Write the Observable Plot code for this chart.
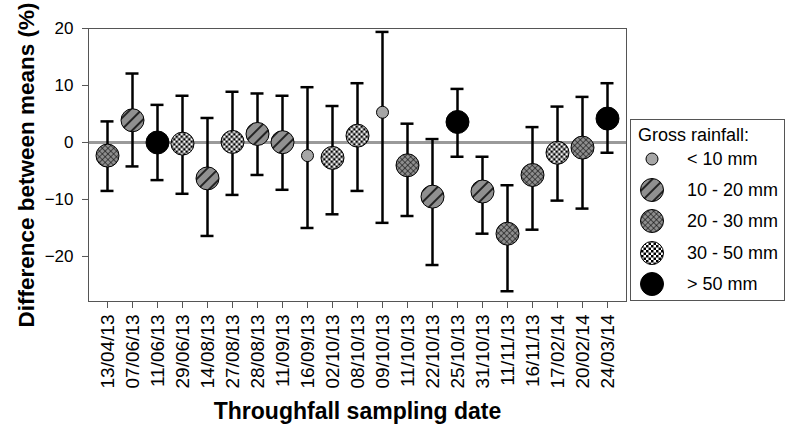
<!DOCTYPE html>
<html>
<head>
<meta charset="utf-8">
<script src="https://cdn.jsdelivr.net/npm/d3@7"></script>
<script src="https://cdn.jsdelivr.net/npm/@observablehq/plot@0.6"></script>
<style>
  body { margin: 0; background: #fff; }
  #chart { position: relative; width: 786px; height: 429px; }
  #legend { position: absolute; left: 630px; top: 119px; width: 153px; height: 180px; border: 1px solid #555; background: #fff; box-sizing: content-box; }
  #legend svg { display: block; }
</style>
</head>
<body>
<div id="chart"><div id="legend"></div></div>
<script>
const dates = ["13/04/13","07/06/13","11/06/13","29/06/13","14/08/13","27/08/13","28/08/13","11/09/13","16/09/13","02/10/13","08/10/13","09/10/13","11/10/13","22/10/13","25/10/13","31/10/13","11/11/13","16/11/13","17/02/14","20/02/14","24/03/14"];
const means = [-2.3, 3.9, 0.0, -0.2, -6.3, 0.1, 1.5, 0.05, -2.3, -2.7, 1.2, 5.3, -4.0, -9.5, 3.6, -8.6, -16.0, -5.7, -1.8, -0.9, 4.2];
const upper = [3.7, 12.1, 6.6, 8.2, 4.3, 8.9, 8.6, 8.2, 9.7, 6.4, 10.4, 19.4, 3.3, 0.6, 9.4, -2.5, -7.5, 2.7, 6.3, 8.0, 10.4];
const lower = [-8.5, -4.2, -6.6, -9.0, -16.4, -9.2, -5.7, -8.3, -15.0, -12.6, -8.5, -14.1, -12.9, -21.5, -2.5, -16.0, -26.1, -15.3, -10.2, -11.6, -1.8];
const rainClass = ["20 - 30 mm","10 - 20 mm","> 50 mm","30 - 50 mm","10 - 20 mm","30 - 50 mm","10 - 20 mm","10 - 20 mm","< 10 mm","30 - 50 mm","30 - 50 mm","< 10 mm","20 - 30 mm","10 - 20 mm","> 50 mm","10 - 20 mm","20 - 30 mm","20 - 30 mm","30 - 50 mm","20 - 30 mm","> 50 mm"];
const classes = ["< 10 mm","10 - 20 mm","20 - 30 mm","30 - 50 mm","> 50 mm"];
const classFill = ["#a6a6a6","url(#pStripe)","url(#pCross)","url(#pCheck)","#000000"];
const classRadius = [6, 11.5, 11.5, 11.5, 11.5];
const yTicks = [-20, -10, 0, 10, 20];

const data = dates.map((d, i) => ({date: d, mean: means[i], hi: upper[i], lo: lower[i], cls: rainClass[i]}));

const font = "'Liberation Sans', Arial, Helvetica, sans-serif";

const dotMarks = classes.map((c, k) => Plot.dot(data.filter(d => d.cls === c), {
  x: "date", y: "mean", r: classRadius[k], fill: classFill[k], stroke: "#000", strokeWidth: 1
}));

const plot = Plot.plot({
  width: 786,
  height: 429,
  marginLeft: 88,
  marginRight: 160,
  marginTop: 28,
  marginBottom: 128,
  style: {fontFamily: font, background: "#fff", color: "#000"},
  x: {type: "point", domain: dates, padding: 0.5},
  y: {domain: [-27.9, 20]},
  marks: [
    Plot.ruleY([0], {stroke: "#9a9a9a", strokeWidth: 3}),
    Plot.ruleX(data, {x: "date", y1: "lo", y2: "hi", stroke: "#000", strokeWidth: 2.5}),
    Plot.ruleY(data, {x1: "date", x2: "date", y: "hi", stroke: "#000", strokeWidth: 2.5, insetLeft: -6.5, insetRight: -6.5}),
    Plot.ruleY(data, {x1: "date", x2: "date", y: "lo", stroke: "#000", strokeWidth: 2.5, insetLeft: -6.5, insetRight: -6.5}),
    ...dotMarks,
    Plot.frame({stroke: "#555", strokeWidth: 1}),
    Plot.axisY({ticks: yTicks, tickSize: 6, tickPadding: 9, fontSize: 17, label: null, stroke: "#555"}),
    Plot.axisX({tickRotate: -90, tickSize: 7, tickPadding: 6, fontSize: 19, label: null, stroke: "#555"}),
    Plot.text(["Difference between means (%)"], {frameAnchor: "left", rotate: -90, dx: -62, fontSize: 22.5, fontWeight: "bold", textAnchor: "middle", lineAnchor: "middle", fill: "#000"}),
    Plot.text(["Throughfall sampling date"], {frameAnchor: "bottom", dy: 110, fontSize: 23, fontWeight: "bold", textAnchor: "middle", lineAnchor: "middle", fill: "#000"})
  ]
});

const svg = d3.select(plot);
const defs = svg.insert("defs", ":first-child");
// stripes
const ps = defs.append("pattern").attr("id", "pStripe").attr("patternUnits", "userSpaceOnUse")
  .attr("width", 8).attr("height", 8).attr("patternTransform", "rotate(45)");
ps.append("rect").attr("width", 8).attr("height", 8).attr("fill", "#909090");
ps.append("line").attr("x1", 1).attr("y1", 0).attr("x2", 1).attr("y2", 8).attr("stroke", "#000").attr("stroke-width", 1.5);
// crosshatch
const pc = defs.append("pattern").attr("id", "pCross").attr("patternUnits", "userSpaceOnUse")
  .attr("width", 4).attr("height", 4).attr("patternTransform", "rotate(45)");
pc.append("rect").attr("width", 4).attr("height", 4).attr("fill", "#8e8e8e");
pc.append("line").attr("x1", 0.3).attr("y1", 0).attr("x2", 0.3).attr("y2", 4).attr("stroke", "#000").attr("stroke-width", 0.65);
pc.append("line").attr("x1", 0).attr("y1", 0.3).attr("x2", 4).attr("y2", 0.3).attr("stroke", "#000").attr("stroke-width", 0.65);
// checker
const pk = defs.append("pattern").attr("id", "pCheck").attr("patternUnits", "userSpaceOnUse")
  .attr("width", 5).attr("height", 5);
pk.append("rect").attr("width", 5).attr("height", 5).attr("fill", "#fff");
pk.append("rect").attr("width", 2.5).attr("height", 2.5).attr("fill", "#000");
pk.append("rect").attr("x", 2.5).attr("y", 2.5).attr("width", 2.5).attr("height", 2.5).attr("fill", "#000");

const chart = document.getElementById("chart");
chart.insertBefore(plot, chart.firstChild);

// legend (HTML box with a small svg; offsets relative to box at 631,120)
const lsvg = d3.select("#legend").append("svg").attr("width", 153).attr("height", 180)
  .attr("font-family", font).attr("text-anchor", "start");
lsvg.append("text").attr("x", 7).attr("y", 15).attr("dy", "0.35em").attr("font-size", 18).attr("fill", "#000").text("Gross rainfall:");
const rowY = [39, 70, 101, 133, 164];
classes.forEach((c, k) => {
  lsvg.append("circle").attr("cx", 21).attr("cy", rowY[k]).attr("r", classRadius[k])
    .attr("fill", classFill[k]).attr("stroke", "#000").attr("stroke-width", 1);
  lsvg.append("text").attr("x", 56).attr("y", rowY[k]).attr("dy", "0.35em").attr("font-size", 18).attr("fill", "#000").text(c);
});
</script>
</body>
</html>
